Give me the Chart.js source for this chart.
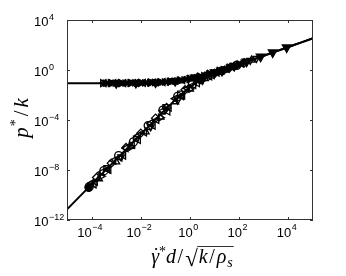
<!DOCTYPE html>
<html lang="en">
<head>
<meta charset="UTF-8">
<title>p*/k against scaled shear rate</title>
<script src="https://cdn.jsdelivr.net/npm/chart.js"></script>
<style>
  * { margin: 0; padding: 0; box-sizing: border-box; }
  body { background: #fff; width: 346px; height: 276px; overflow: hidden; }
  #wrap { width: 346px; height: 276px; }
</style>
</head>
<body>
<div id="wrap"><canvas id="chart" width="346" height="276"></canvas></div>
<script>
// all values are log10 of the plotted quantity
const curveLogX      = [-5, -4.5, -4, -3.5, -3, -2.5, -2, -1.5, -1, -0.5, 0, 0.5, 1, 1.5, 2, 2.5, 3, 3.5, 4, 4.5, 5];
const lowerCurveLogY = [-11.15, -10.15, -9.15, -8.15, -7.15, -6.15, -5.15, -4.15, -3.16, -2.21, -1.37, -0.74, -0.29, 0.08, 0.44, 0.79, 1.14, 1.49, 1.84, 2.19, 2.54];
const upperCurveLogY = [-1.05, -1.05, -1.05, -1.05, -1.046, -1.041, -1.03, -1.005, -0.955, -0.86, -0.70, -0.48, -0.19, 0.12, 0.454, 0.797, 1.143, 1.491, 1.841, 2.19, 2.54];

// marker series
const triLeftLogX  = [-3.5, -3.1, -2.7, -2.3, -1.9, -1.5, -1.1, -0.7, -0.3, 0.1, 0.5, 0.9, 1.3, 1.7, -3.9, -3.3, -2.7, -2.1, -1.5, -0.9, -0.3, 0.3, 0.9, 1.5, 2.1];
const triLeftLogY  = [-1.05, -1.047, -1.044, -1.038, -1.026, -1.005, -0.968, -0.905, -0.805, -0.662, -0.48, -0.254, -0.009, 0.252, -9.15, -8.0, -6.85, -5.6, -4.45, -3.32, -2.05, -1.06, -0.42, 0.08, 0.51];
const triRightLogX = [-3.55, -3.2, -2.8, -2.4, -2.0, -1.6, -1.2, -0.8, -0.4, 0.0, 0.4, 0.8, 1.2, 1.6, 2.0, -3.6, -2.4, -1.2, 0, 1.2];
const triRightLogY = [-1.05, -1.048, -1.045, -1.04, -1.03, -1.012, -0.979, -0.924, -0.834, -0.702, -0.526, -0.312, -0.072, 0.186, 0.454, -8.5, -6.15, -3.81, -1.52, -0.138];
const starLogX     = [-3.3, -2.9, -2.5, -2.1, -1.7, -1.3, -0.9, -0.5, -0.1, 0.3, 0.7, 1.1, 1.5, 1.9];
const starLogY     = [-1.048, -1.046, -1.041, -1.033, -1.017, -0.989, -0.94, -0.86, -0.739, -0.573, -0.369, -0.134, 0.12, 0.386];
const upperFillLogX = [-3.45, -3.25, -3.05, -2.85, -2.65, -2.45, -2.25, -2.05, -1.85, -1.65, -1.45, -1.25, -1.05, -0.85, -0.65, -0.45, -0.25, -0.05, 0.15, 0.35, 0.55, 0.75, 0.95, 1.15, 1.35, 1.55, 1.75, 1.95, 2.15];
const upperFillLogY = [-1.05, -1.048, -1.047, -1.045, -1.043, -1.04, -1.036, -1.032, -1.024, -1.015, -1.002, -0.984, -0.962, -0.933, -0.895, -0.848, -0.79, -0.72, -0.641, -0.55, -0.452, -0.34, -0.224, -0.103, 0.022, 0.153, 0.285, 0.42, 0.556];
const lowerFillLogX = [-4.0, -3.85, -3.6, -3.35, -3.1, -2.85, -2.6, -2.35, -2.1, -1.85, -1.6, -1.35, -1.1, -0.85, -0.6, -0.35, -0.1, 0.15, 0.45, 0.8, 1.1];
const lowerFillLogY = [-9.05, -8.95, -8.2, -7.95, -7.25, -7.0, -6.25, -6.0, -5.25, -5.0, -4.25, -4.0, -3.26, -3.02, -2.29, -2.09, -1.47, -1.2, -0.79, -0.51, -0.214];
const triDownLogX  = [-3.0, -2.2, -1.4, -0.6, 0.2, 1.0, 1.8, 2.3, 2.87, 3.36, 3.93];
const triDownLogY  = [-1.046, -1.035, -0.998, -0.884, -0.619, -0.194, 0.319, 0.66, 1.06, 1.40, 1.80];
const triDownOpenLogX = [2.45, 2.7, 1.3, 0.5, -0.5, -1.6, -2.8];
const triDownOpenLogY = [0.76, 0.93, -0.16, -0.84, -2.41, -4.55, -6.95];
const circleLogX   = [-4.1, -3.5, -2.9, -2.3, -1.7, -1.1, -0.5, 0.1, 0.7, 1.3, 1.9];
const circleLogY   = [-9.35, -8.05, -6.85, -5.75, -4.45, -3.21, -2.11, -1.12, -0.5, -0.064, 0.37];
const dotLogX      = [-4.12];
const dotLogY      = [-9.42];
const diamondLogX  = [-3.8, -3.2, -2.6, -2.0, -1.4, -0.95, -0.2, 0.4, 1.0, 1.6, 2.2];
const diamondLogY  = [-8.6, -7.45, -6.2, -5.05, -3.85, -3.0, -1.58, -0.8, -0.29, 0.154, 0.579];
const triUpLogX    = [-3.7, -3.0, -2.4, -1.8, -1.2, -0.6, 0, 0.6, 1.2, 1.8, 2.5];
const triUpLogY    = [-8.7, -7.35, -6.1, -4.95, -3.76, -2.54, -1.52, -0.69, -0.19, 0.297, 0.79];
const squareLogX   = [-3.4, -2.2, -1.0, -0.4, 0.5, 1.4];
const squareLogY   = [-7.85, -5.5, -2.96, -1.88, -0.69, 0.01];

const xTickExp = [-4, -2, 0, 2, 4];
const yTickExp = [4, 0, -4, -8, -12];

function pts(lx, ly) {
    return lx.map((v, i) => ({ x: Math.pow(10, v), y: Math.pow(10, ly[i]) }));
}

function markers(lx, ly, style, rot, filled, r) {
    return {
        data: pts(lx, ly),
        showLine: false,
        pointStyle: style,
        pointRotation: rot,
        pointRadius: r || 4,
        borderWidth: 1.3,
        pointBorderColor: '#000',
        pointBackgroundColor: filled ? '#000' : 'rgba(0,0,0,0)'
    };
}

// ticks, tick labels, box and axis titles drawn by hand (matlab look)
const decorations = {
    id: 'decorations',
    afterDraw(chart) {
        const ctx = chart.ctx;
        const a = chart.chartArea;
        const xs = chart.scales.x, ys = chart.scales.y;
        ctx.save();

        ctx.strokeStyle = '#333';
        ctx.lineWidth = 1;
        ctx.strokeRect(a.left + 0.5, a.top + 0.5, a.right - a.left - 1, a.bottom - a.top - 1);

        ctx.beginPath();
        xTickExp.forEach(e => {
            const px = Math.round(xs.getPixelForValue(Math.pow(10, e))) + 0.5;
            ctx.moveTo(px, a.bottom); ctx.lineTo(px, a.bottom - 3);
            ctx.moveTo(px, a.top); ctx.lineTo(px, a.top + 3);
        });
        yTickExp.forEach(e => {
            const py = Math.round(ys.getPixelForValue(Math.pow(10, e))) + 0.5;
            ctx.moveTo(a.left, py); ctx.lineTo(a.left + 3, py);
            ctx.moveTo(a.right, py); ctx.lineTo(a.right - 3, py);
        });
        ctx.stroke();

        ctx.fillStyle = '#000';
        ctx.textBaseline = 'alphabetic';
        ctx.textAlign = 'left';
        const baseFont = '13px "Liberation Sans", Arial, sans-serif';
        const expFont = '9px "Liberation Sans", Arial, sans-serif';
        const expText = e => (e < 0 ? '\u2212' + (-e) : String(e));

        yTickExp.forEach(e => {
            const py = ys.getPixelForValue(Math.pow(10, e));
            ctx.font = baseFont;
            ctx.fillText('10', 34, py + 6);
            const w = ctx.measureText('10').width;
            ctx.font = expFont;
            ctx.fillText(expText(e), 34 + w + 0.5, py - 0.5);
        });
        xTickExp.forEach(e => {
            const px = xs.getPixelForValue(Math.pow(10, e));
            ctx.font = baseFont;
            const w1 = ctx.measureText('10').width;
            ctx.font = expFont;
            const w2 = ctx.measureText(expText(e)).width;
            const x0 = px - 2 - (w1 + w2) / 2;
            ctx.font = baseFont;
            ctx.fillText('10', x0, a.bottom + 17);
            ctx.font = expFont;
            ctx.fillText(expText(e), x0 + w1 + 0.5, a.bottom + 9.5);
        });

        const it = size => 'italic ' + size + 'px "Liberation Serif", "DejaVu Serif", serif';
        const rm = size => size + 'px "Liberation Serif", "DejaVu Serif", serif';

        // x title: gamma-dot* d / sqrt(k / rho_s)
        const xParts = [
            { t: '\u03b3', f: it(20), dy: 0, gap: 0 },
            { t: '*', f: rm(14), dy: -7, gap: 0 },
            { t: 'd', f: it(20), dy: 0, gap: 1.5 },
            { t: '/', f: rm(20), dy: 0, gap: 2 },
            { t: '\u221a', f: rm(23), dy: 3, gap: 1, root: true },
            { t: 'k', f: it(20), dy: 0, gap: 1.5 },
            { t: '/', f: rm(20), dy: 0, gap: 2 },
            { t: '\u03c1', f: it(20), dy: 0, gap: 1 },
            { t: 's', f: it(14), dy: 4, gap: 0 }
        ];
        let total = 0;
        xParts.forEach(p => { ctx.font = p.f; p.w = ctx.measureText(p.t).width; total += p.w + p.gap; });
        let cx = 192 - total / 2;
        const xb = 263;
        let rootEnd = 0;
        xParts.forEach((p, i) => {
            ctx.font = p.f;
            ctx.fillText(p.t, cx, xb + p.dy);
            if (i === 0) {
                ctx.beginPath();
                ctx.arc(cx + p.w * 0.62, xb - 14, 1.1, 0, Math.PI * 2);
                ctx.fill();
            }
            if (p.root) rootEnd = cx + p.w - 0.5;
            cx += p.w + p.gap;
        });
        ctx.beginPath();
        ctx.lineWidth = 1;
        ctx.moveTo(rootEnd, 246.5);
        ctx.lineTo(cx + 1, 246.5);
        ctx.stroke();

        // y title: p* / k
        ctx.translate(22, 118);
        ctx.rotate(-Math.PI / 2);
        const yParts = [
            { t: 'p', f: it(21), dy: 0, gap: 1 },
            { t: '*', f: rm(14), dy: -8, gap: 3 },
            { t: '/', f: rm(21), dy: 0, gap: 3 },
            { t: 'k', f: it(21), dy: 0, gap: 0 }
        ];
        total = 0;
        yParts.forEach(p => { ctx.font = p.f; p.w = ctx.measureText(p.t).width; total += p.w + p.gap; });
        cx = -total / 2;
        yParts.forEach(p => {
            ctx.font = p.f;
            ctx.fillText(p.t, cx, 6 + p.dy);
            cx += p.w + p.gap;
        });

        ctx.restore();
    }
};

const lineStyle = { showLine: true, pointRadius: 0, borderColor: '#000', borderWidth: 2, tension: 0, cubicInterpolationMode: 'monotone' };

new Chart(document.getElementById('chart'), {
    type: 'scatter',
    data: {
        datasets: [
            Object.assign({ data: pts(curveLogX, upperCurveLogY) }, lineStyle),
            Object.assign({ data: pts(curveLogX, lowerCurveLogY) }, lineStyle),
            markers(triLeftLogX, triLeftLogY, 'triangle', -90, false),
            markers(triRightLogX, triRightLogY, 'triangle', 90, false),
            markers(starLogX, starLogY, 'star', 0, false),
            markers(upperFillLogX, upperFillLogY, 'triangle', 90, true, 3.5),
            markers(lowerFillLogX, lowerFillLogY, 'triangle', -90, false),
            markers(triDownOpenLogX, triDownOpenLogY, 'triangle', 180, false),
            markers(circleLogX, circleLogY, 'circle', 0, false),
            markers(dotLogX, dotLogY, 'circle', 0, true, 3.5),
            markers(diamondLogX, diamondLogY, 'rectRot', 0, false),
            markers(triUpLogX, triUpLogY, 'triangle', 0, false),
            markers(squareLogX, squareLogY, 'rect', 0, false, 3.5),
            markers(triDownLogX, triDownLogY, 'triangle', 180, true, 5)
        ]
    },
    options: {
        responsive: false,
        devicePixelRatio: 1,
        animation: false,
        events: [],
        layout: { padding: { top: 20, right: 33, left: 0, bottom: 0 } },
        plugins: { legend: { display: false }, tooltip: { enabled: false } },
        scales: {
            x: {
                type: 'logarithmic',
                min: 1e-5, max: 1e5,
                grid: { display: false },
                border: { display: false },
                ticks: { display: false },
                afterFit: s => { s.height = 56; }
            },
            y: {
                type: 'logarithmic',
                min: 1e-12, max: 1e4,
                grid: { display: false },
                border: { display: false },
                ticks: { display: false },
                afterFit: s => { s.width = 67; }
            }
        }
    },
    plugins: [decorations]
});
</script>
</body>
</html>
